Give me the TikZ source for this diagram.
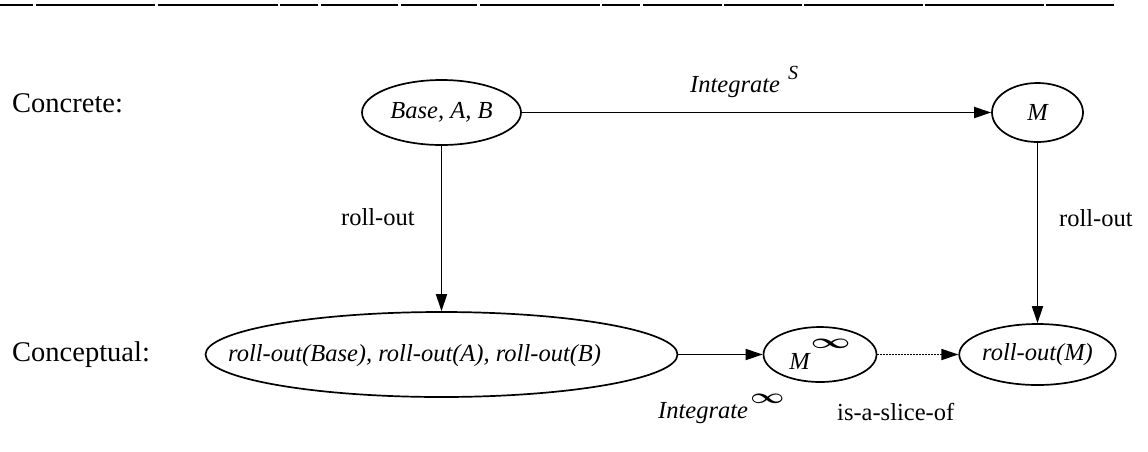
\documentclass[tikz,border=0pt]{standalone}
\usepackage{fontspec}
\usepackage{graphicx}
\setmainfont{Liberation Serif}
\usetikzlibrary{arrows.meta,shapes.geometric}

\newcommand{\labelsize}{\fontsize{24.5}{28}\selectfont}
\newcommand{\captionsize}{\fontsize{28.5}{32}\selectfont}
\newcommand{\infsym}[1]{\scalebox{#1}[0.85]{\boldmath$\infty$}}

\begin{document}
\begin{tikzpicture}[x=1pt,y=-1pt,
  every node/.style={font=\labelsize, inner sep=0pt},
  oval/.style={draw, ellipse, line width=1.7pt},
  txt/.style={anchor=base west},
  rowcap/.style={txt, font=\captionsize},
  link/.style={line width=1.8pt, -{Triangle[length=17pt,width=11pt]}},
  slice/.style={link, dash pattern=on 1.5pt off 1.5pt},
  rulebar/.style={line width=1.7pt}]
\useasboundingbox (0,0) rectangle (1148,451);

% rule of dashes along the top
\foreach \a/\b in {0/33,36/155,158/278,280/318,321/398,401/477,480/600,
                   602/640,643/722,724/802,804/923,925/1044,1046/1114}
  \draw[rulebar] (\a,5) -- (\b,5);

% row captions
\node[rowcap] (concrete) at (12,112) {Concrete:};
\node[rowcap] (conceptual) at (12,361) {Conceptual:};

% concrete level
\node[oval, minimum width=159pt, minimum height=65pt] (base) at (441.5,112.5) {\itshape Base, A, B};
\node[oval, minimum width=91pt, minimum height=59pt] (mtop) at (1037.5,112.5) {\itshape M};

% conceptual level
\node[oval, minimum width=472pt, minimum height=85pt] (big) at (441.5,354.5) {};
\node[txt] (bigtext) at (228,361) {\itshape roll-out(Base), roll-out(A), roll-out(B)};
\node[oval, minimum width=113pt, minimum height=55pt] (minf) at (820,354.5)
  {\itshape M\hspace{1pt}\raisebox{21pt}{\infsym{1.4}}};
\node[oval, minimum width=154pt, minimum height=61pt] (rollm) at (1037.5,354.5) {\itshape roll-out(M)};

% connectors
\draw[link] (base) -- (mtop);
\draw[link] (base) -- (big);
\draw[link] (mtop) -- (rollm);
\draw[link] (big) -- (minf);
\draw[slice] (minf) -- (rollm);

% connector labels
\node[txt] (intS) at (690,92.7)
  {\itshape Integrate\hspace{8pt}\raisebox{13pt}{\fontsize{20}{24}\selectfont S}};
\node[txt] (rollL) at (341,225) {roll-out};
\node[txt] (rollR) at (1059,226) {roll-out};
\node[txt] (intInf) at (658,418) {\itshape Integrate\hspace{2pt}\raisebox{15pt}{\infsym{1.2}}};
\node[txt] (isslice) at (837,420) {is-a-slice-of};
\end{tikzpicture}
\end{document}
